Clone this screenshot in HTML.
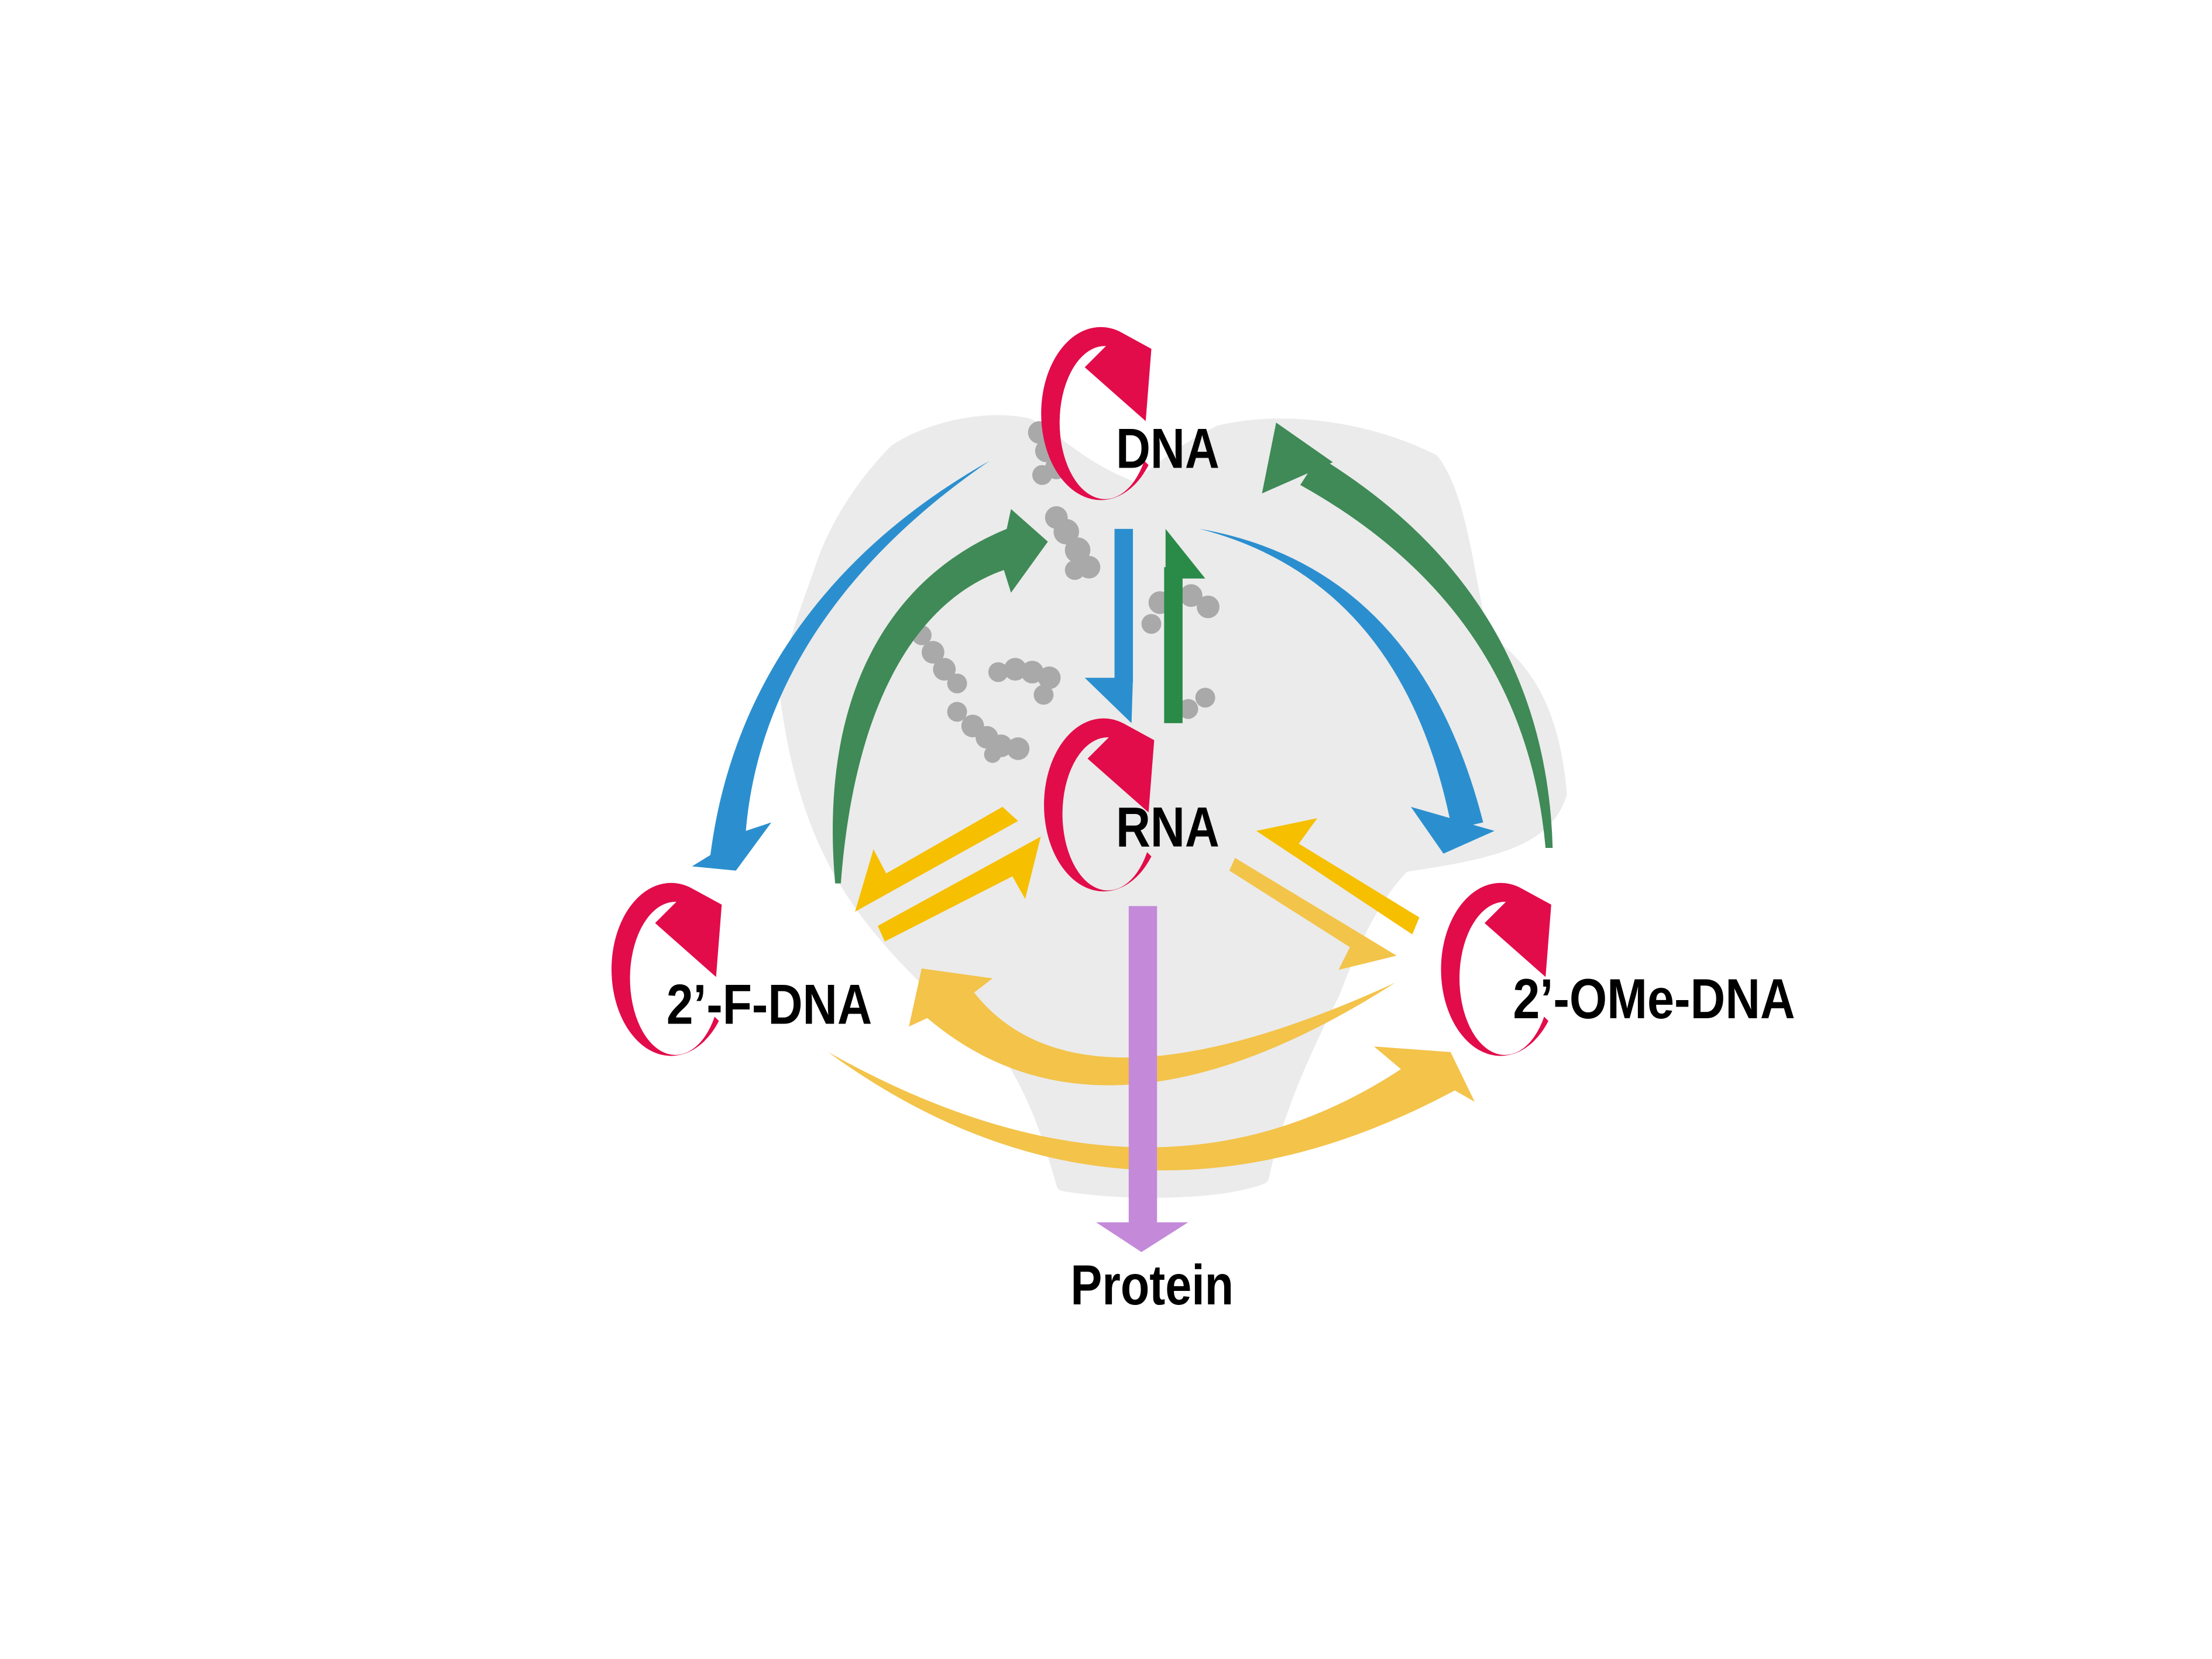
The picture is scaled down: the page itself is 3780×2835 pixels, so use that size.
<!DOCTYPE html>
<html><head><meta charset="utf-8"><style>
html,body{margin:0;padding:0;background:#fff;}
svg{display:block;}
text{font-family:"Liberation Sans",Arial,sans-serif;font-weight:bold;fill:#000;}
</style></head><body>
<svg width="3780" height="2835" viewBox="0 0 1560 1170" xmlns="http://www.w3.org/2000/svg">
<defs>
<g id="r"><path d="M 20 -56 A 42 61 0 1 0 40 38 L 37 35 A 32 54 0 1 1 10 -46 L -5 -31 L 38 7 L 42 -44 Z" fill="#e20c4a"/></g>
</defs>
<!-- protein blob -->
<path d="M632,318 C660,300 700,294 725,300 C745,310 760,330 800,345 C815,335 830,320 860,305 C900,295 960,300 1010,325 C1030,350 1035,410 1045,450 C1075,470 1095,500 1100,560 C1090,590 1060,600 990,610 C970,630 955,660 940,700 C925,730 900,780 890,830 C860,842 790,842 750,835 C740,800 730,770 710,740 C680,715 650,690 625,660 C590,620 565,570 555,490 C560,450 570,430 580,400 C590,370 610,340 632,318 Z" fill="#ebebeb" stroke="#ebebeb" stroke-width="10" stroke-linejoin="round"/>
<g fill="#a9a9a9">
<circle cx="733" cy="305" r="8"/><circle cx="738" cy="318" r="8"/><circle cx="745" cy="330" r="8"/><circle cx="735" cy="335" r="7"/>
<circle cx="745" cy="365" r="8"/><circle cx="752" cy="375" r="9"/><circle cx="760" cy="388" r="9"/><circle cx="768" cy="400" r="8"/><circle cx="758" cy="402" r="7"/>
<circle cx="650" cy="448" r="7"/><circle cx="658" cy="460" r="8"/><circle cx="666" cy="472" r="8"/><circle cx="675" cy="482" r="7"/>
<circle cx="675" cy="502" r="7"/><circle cx="686" cy="512" r="8"/><circle cx="696" cy="520" r="8"/><circle cx="706" cy="526" r="8"/><circle cx="718" cy="528" r="8"/><circle cx="700" cy="532" r="6"/>
<circle cx="704" cy="474" r="7"/><circle cx="716" cy="472" r="8"/><circle cx="728" cy="474" r="8"/><circle cx="740" cy="478" r="8"/><circle cx="736" cy="490" r="7"/>
<circle cx="818" cy="425" r="8"/><circle cx="840" cy="420" r="8"/><circle cx="852" cy="428" r="8"/><circle cx="812" cy="440" r="7"/>
<circle cx="838" cy="500" r="7"/><circle cx="850" cy="492" r="7"/>
</g>
<!-- red circular arrows -->
<use href="#r" transform="translate(770,290)"/>
<use href="#r" transform="translate(772,566)"/>
<use href="#r" transform="translate(467,682)"/>
<use href="#r" transform="translate(1052,682)"/>
<!-- blue left -->
<path d="M698,325 C600,380 518,470 501,603 L488,611 L519,614 L544,580 L526,586 C535,480 600,392 698,325 Z" fill="#2b8fcf"/>
<!-- green left -->
<path d="M589,623 C578,500 620,410 710,373 L713,359 L739,382 L713,418 L708,402 C650,422 603,490 593,623 Z" fill="#3f8a57"/>
<!-- blue down -->
<rect x="786" y="373" width="13" height="108" fill="#2b8fcf"/>
<polygon points="765,478 799,478 798,510" fill="#2b8fcf"/>
<!-- green up -->
<rect x="821" y="400" width="13" height="110" fill="#2a8a48"/>
<polygon points="822,373 822,408 850,408" fill="#2a8a48"/>
<!-- blue right -->
<path d="M846,373 Q990,410 1024,585 L1046,580 Q1000,400 846,373 Z" fill="#2b8fcf"/>
<polygon points="995,569 1054,586 1018,602" fill="#2b8fcf"/>
<!-- green right -->
<path d="M1095,598 Q1090,420 930,322 L917,342 Q1075,430 1090,598 Z" fill="#3f8a57"/>
<polygon points="900,298 890,348 940,326" fill="#3f8a57"/>
<!-- yellow left pair -->
<polygon points="707,569 718,579 603,643 616,599 625,616" fill="#f6bf00"/>
<polygon points="619,653 734,590 723,634 714,618 624,664" fill="#f6bf00"/>
<!-- yellow right pair -->
<polygon points="886,586 929,577 916,595 1001,647 996,659" fill="#f6bf00"/>
<polygon points="871,605 985,674 944,684 952,668 867,614" fill="#f3c44a"/>
<!-- yellow curves -->
<path d="M984,693 Q779,824 654,718 L641,724 L650,683 L700,690 L687,700 Q762,795 984,693 Z" fill="#f3c34a"/>
<path d="M584,742 Q793,894 1026,769 L1040,777 L1023,742 L969,738 L988,754 Q812,870 584,742 Z" fill="#f3c34a"/>
<!-- purple -->
<rect x="796" y="639" width="20" height="225" fill="#c48ad9"/>
<polygon points="773,862 838,862 805,883" fill="#c48ad9"/>
<!-- labels -->
<text x="787" y="330" font-size="40" textLength="73" lengthAdjust="spacingAndGlyphs">DNA</text>
<text x="787" y="597" font-size="40" textLength="73" lengthAdjust="spacingAndGlyphs">RNA</text>
<text x="470" y="722" font-size="40" textLength="145" lengthAdjust="spacingAndGlyphs">2’-F-DNA</text>
<text x="1067" y="718" font-size="40" textLength="199" lengthAdjust="spacingAndGlyphs">2’-OMe-DNA</text>
<text x="755" y="920" font-size="40" textLength="115" lengthAdjust="spacingAndGlyphs">Protein</text>
</svg>
</body></html>
